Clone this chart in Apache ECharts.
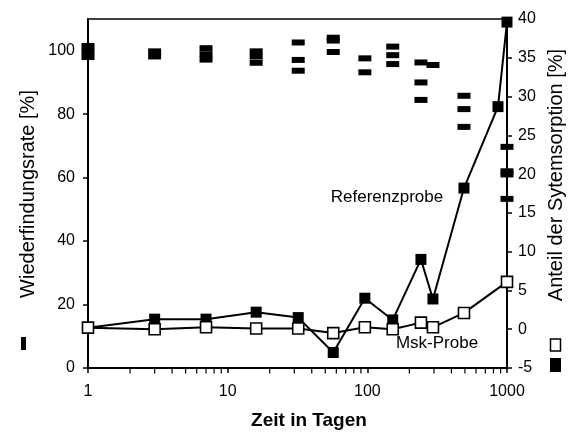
<!DOCTYPE html>
<html>
<head>
<meta charset="utf-8">
<script src="https://cdn.jsdelivr.net/npm/echarts@6/dist/echarts.min.js"></script>
<style>
  html, body { margin: 0; padding: 0; background: #fff; }
  #chart { width: 578px; height: 432px; }
</style>
</head>
<body>
<div id="chart"></div>
<script>
// Minor tick positions of the logarithmic time axis (days)
const minorTicks = [2, 3, 4, 5, 6, 7, 8, 9, 20, 30, 40, 50, 60, 70, 80, 90,
                    200, 300, 400, 500, 600, 700, 800, 900];

// Recovery rate (left axis, %) – individual measurements per sampling day
const recoveryDays = [1, 1, 1, 3, 3, 7, 7, 7, 16, 16, 16, 32, 32, 32, 57, 57, 57,
                      96, 96, 152, 152, 152, 242, 242, 242, 295, 492, 492, 492,
                      1000, 1000, 1000, 1000];
const recoveryRate = [101.5, 99.8, 98, 99.8, 98.2, 100.8, 98.9, 97.2, 99.8, 98.2, 96.2,
                      102.6, 97.1, 93.7, 104.1, 103.2, 99.6, 97.6, 93.2,
                      101.3, 98.6, 95.8, 96.3, 90, 84.5, 95.5, 85.8, 81.6, 76,
                      69.7, 62, 61, 53.3];

// Share of system sorption (right axis, %)
const refDays = [1, 3, 7, 16, 32, 57, 96, 152, 242, 295, 492, 862, 1000];
const refSorption = [0.2, 1.3, 1.3, 2.2, 1.5, -3.0, 4.0, 1.2, 9.0, 3.9, 18.2, 28.7, 39.6];
const mskDays = [1, 3, 7, 16, 32, 57, 96, 152, 242, 295, 492, 1000];
const mskSorption = [0.2, 0, 0.25, 0.1, 0.1, -0.5, 0.25, 0, 0.85, 0.25, 2.1, 6.1];

const FONT = '"Liberation Sans", Arial, sans-serif';
const zip = (a, b) => a.map((v, i) => [v, b[i]]);

const chart = echarts.init(document.getElementById('chart'), null, { renderer: 'canvas' });

chart.setOption({
  backgroundColor: '#fff',
  animation: false,
  grid: {
    left: 88, right: 71, top: 19, bottom: 64,
    show: true, borderColor: '#000', borderWidth: 1.5, backgroundColor: 'transparent'
  },
  xAxis: {
    type: 'log', logBase: 10, min: 1, max: 1000,
    axisLine: { lineStyle: { color: '#000', width: 2 } },
    axisTick: { inside: false, length: 5, lineStyle: { color: '#000', width: 1.5 } },
    splitLine: { show: false },
    axisLabel: { color: '#000', fontSize: 16, fontFamily: FONT, margin: 16,
                 formatter: v => String(Math.round(v)) }
  },
  yAxis: [
    {
      type: 'value', min: 0, max: 110, interval: 20, position: 'left',
      axisLine: { show: true, lineStyle: { color: '#000', width: 2 } },
      axisTick: { show: true, inside: false, length: 5, lineStyle: { color: '#000', width: 1.5 } },
      splitLine: { show: false },
      axisLabel: { color: '#000', fontSize: 16, fontFamily: FONT, margin: 13, showMaxLabel: false }
    },
    {
      type: 'value', min: -5, max: 40, interval: 5, position: 'right',
      axisLine: { show: true, lineStyle: { color: '#000', width: 2 } },
      axisTick: { show: true, inside: false, length: 5, lineStyle: { color: '#000', width: 1.5 } },
      splitLine: { show: false },
      axisLabel: { color: '#000', fontSize: 16, fontFamily: FONT, margin: 11 }
    }
  ],
  series: [
    {
      name: 'minor ticks', type: 'scatter', yAxisIndex: 0, silent: true, clip: false,
      symbol: 'rect', symbolSize: [1.2, 5], symbolOffset: [0, 3],
      itemStyle: { color: '#000', opacity: 1 },
      data: minorTicks.map(d => [d, 0]), z: 1
    },
    {
      name: 'Wiederfindungsrate', type: 'scatter', yAxisIndex: 0, silent: true,
      symbol: 'rect', symbolSize: [13, 6],
      itemStyle: { color: '#000', opacity: 1 },
      data: zip(recoveryDays, recoveryRate), z: 3
    },
    {
      name: 'Referenzprobe', type: 'line', yAxisIndex: 1, silent: true,
      symbol: 'rect', symbolSize: 11, showAllSymbol: true,
      lineStyle: { color: '#000', width: 2 },
      itemStyle: { color: '#000', borderColor: '#000', borderWidth: 0 },
      data: zip(refDays, refSorption), z: 4
    },
    {
      name: 'Msk-Probe', type: 'line', yAxisIndex: 1, silent: true,
      symbol: 'rect', symbolSize: 11, showAllSymbol: true,
      lineStyle: { color: '#000', width: 2 },
      itemStyle: { color: '#fff', borderColor: '#000', borderWidth: 1.6 },
      data: zip(mskDays, mskSorption), z: 5
    }
  ],
  graphic: [
    // series labels inside the plot
    { type: 'text', x: 387, y: 197, style: { text: 'Referenzprobe', fill: '#000', font: '17px ' + FONT, align: 'center', verticalAlign: 'middle' } },
    { type: 'text', x: 437, y: 343, style: { text: 'Msk-Probe', fill: '#000', font: '17px ' + FONT, align: 'center', verticalAlign: 'middle' } },
    // x axis title
    { type: 'text', x: 309, y: 421, style: { text: 'Zeit in Tagen', fill: '#000', font: 'bold 19px ' + FONT, align: 'center', verticalAlign: 'middle' } },
    // left axis title with its dash key
    { type: 'text', x: 28, y: 194, rotation: Math.PI / 2, style: { text: 'Wiederfindungsrate [%]', fill: '#000', font: '20px ' + FONT, align: 'center', verticalAlign: 'middle' } },
    { type: 'rect', shape: { x: 21, y: 337, width: 5, height: 13 }, style: { fill: '#000' } },
    // right axis title with its square keys
    { type: 'text', x: 556, y: 175, rotation: Math.PI / 2, style: { text: 'Anteil der Sytemsorption [%]', fill: '#000', font: '20px ' + FONT, align: 'center', verticalAlign: 'middle' } },
    { type: 'rect', shape: { x: 550.5, y: 339, width: 10, height: 12 }, style: { fill: '#fff', stroke: '#000', lineWidth: 1.5 } },
    { type: 'rect', shape: { x: 550, y: 358, width: 11, height: 14 }, style: { fill: '#000' } }
  ]
});
</script>
</body>
</html>
